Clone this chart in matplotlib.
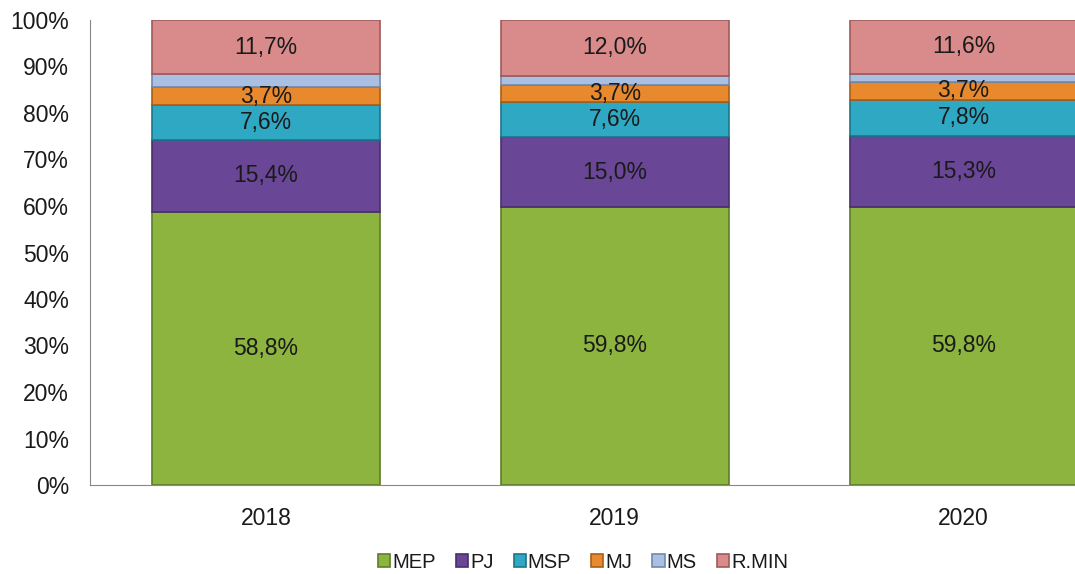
import matplotlib
matplotlib.use("Agg")
import matplotlib.pyplot as plt
import numpy as np

plt.rcParams['font.family'] = ['Liberation Sans', 'DejaVu Sans']

years = ["2018", "2019", "2020"]
series = ["MEP", "PJ", "MSP", "MJ", "MS", "R.MIN"]
mep = [58.8, 59.8, 59.8]
pj = [15.4, 15.0, 15.3]
msp = [7.6, 7.6, 7.8]
mj = [3.7, 3.7, 3.7]
ms = [2.8, 1.9, 1.8]
rmin = [11.7, 12.0, 11.6]
values = [mep, pj, msp, mj, ms, rmin]
show_label = [True, True, True, True, False, True]

colors = ["#8cb43f", "#6a4796", "#2fa8c4", "#e8892d", "#a9c0e2", "#d98a8a"]
edges = ["#5f7d28", "#48306a", "#1d768a", "#a85e18", "#7388aa", "#a05a5a"]

fig = plt.figure(figsize=(10.75, 5.74), dpi=100)
ax = fig.add_axes([90 / 1075, 89 / 574, 1048 / 1075, 465 / 574])

x = np.arange(len(years))
bottom = np.zeros(len(years))
for name, vals, c, ec, lab in zip(series, values, colors, edges, show_label):
    vals = np.array(vals)
    ax.bar(x, vals, 0.653, bottom=bottom, color=c, edgecolor=ec,
           linewidth=1.2, label=name)
    if lab:
        for xi, b, v in zip(x, bottom, vals):
            ax.text(xi, b + v / 2, f"{v:.1f}%".replace(".", ","),
                    ha="center", va="center", fontsize=16.5, color="#1a1a1a")
    bottom += vals

ax.set_xlim(-0.504, 2.5)
ax.set_ylim(0, 100)
ax.set_yticks(np.arange(0, 101, 10))
ax.set_yticklabels([f"{t}%" for t in range(0, 101, 10)], fontsize=16.5, color="#1a1a1a")
ax.set_xticks(x)
ax.set_xticklabels(years, fontsize=16.5, color="#1a1a1a")
ax.tick_params(axis="x", length=0, pad=16)
ax.tick_params(axis="y", length=0, pad=15)
for s in ["top", "right"]:
    ax.spines[s].set_visible(False)
for s in ["left", "bottom"]:
    ax.spines[s].set_color("#888888")

handles, labels = ax.get_legend_handles_labels()
fig.legend(handles, labels, loc="center", bbox_to_anchor=(583 / 1075, 1 - 562 / 574),
           ncol=6, frameon=False, fontsize=14.5, handlelength=0.6, handleheight=0.6,
           handletextpad=0.1, columnspacing=1.0, labelcolor="#1a1a1a")

fig.savefig("out.png", dpi=100)
